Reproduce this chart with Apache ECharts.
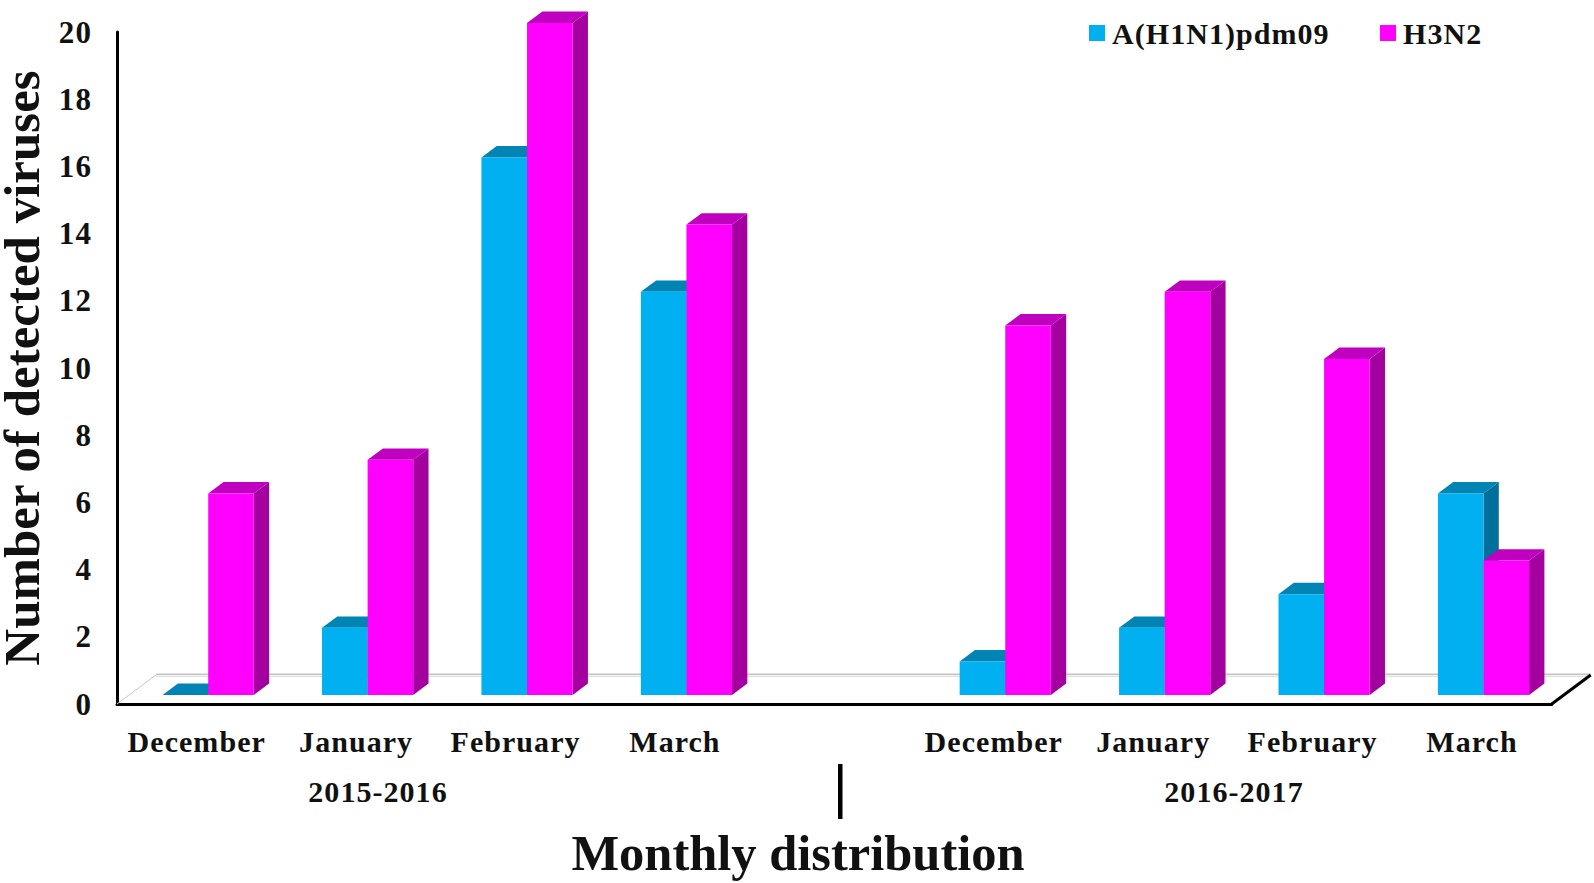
<!DOCTYPE html>
<html><head><meta charset="utf-8">
<style>html,body{margin:0;background:#fff}#c{width:1594px;height:883px}svg text{letter-spacing:.035em}svg text[style*="50.5px"],svg text[style*="51px"]{letter-spacing:0}</style>
<script src="https://cdn.jsdelivr.net/npm/echarts@6/dist/echarts.min.js"></script>
</head><body><div id="c"></div>
<script>
const categories=['December','January','February','March','','December','January','February','March'];
const h1n1=[0,2,16,12,null,1,2,3,6];
const h3n2=[6,7,20,14,null,11,12,10,4];
const yTicks=[0,2,4,6,8,10,12,14,16,18,20];
const FONT='"Liberation Serif","Times New Roman",serif';
const chart=echarts.init(document.getElementById('c'),null,{renderer:'svg'});
const BAR=45.6,DX=15.3,DY=11.4,OX=11.5,OY=-9;
function bar3d(side,colors){
  return function(params,api){
    const v=api.value(1);
    if(v===null||v===undefined||isNaN(v))return;
    const p=api.coord([api.value(0),v]),b=api.coord([api.value(0),0]);
    const x0=p[0]+OX+(side<0?-BAR:0),x1=x0+BAR,yt=p[1]+OY,yb=b[1]+OY;
    const poly=(pts,fill)=>({type:'polygon',shape:{points:pts},style:{fill:fill}});
    const kids=[
      poly([[x1,yt],[x1+DX,yt-DY],[x1+DX,yb-DY],[x1,yb]],colors[2]),
      poly([[x0,yt],[x0+DX,yt-DY],[x1+DX,yt-DY],[x1,yt]],colors[1])
    ];
    if(yb-yt>0)kids.push({type:'rect',shape:{x:x0,y:yt,width:BAR,height:yb-yt},style:{fill:colors[0]}});
    return {type:'group',children:kids};
  };
}
function floor(params,api){
  const c=params.coordSys,xl=c.x,xr=c.x+c.width,yb=c.y+c.height,dx=39,dy=29;
  return {type:'group',silent:true,children:[
    {type:'line',shape:{x1:xl+dx,y1:yb-dy,x2:xr+dx,y2:yb-dy},style:{stroke:'#c4c4c4',lineWidth:3}},
    {type:'line',shape:{x1:xl+dx,y1:yb-dy+.5,x2:xr+dx,y2:yb-dy+.5},style:{stroke:'#f2f2f2',lineWidth:1}},
    {type:'line',shape:{x1:xl,y1:yb,x2:xl+dx,y2:yb-dy},style:{stroke:'#c8c8c8',lineWidth:1}},
    {type:'line',shape:{x1:xr,y1:yb,x2:xr+dx,y2:yb-dy},style:{stroke:'#000',lineWidth:3}}
  ]};
}
const seriesCommon={type:'custom',encode:{x:0,y:1},silent:true,animation:false,clip:false};
chart.setOption({
  animation:false,
  backgroundColor:'#fff',
  grid:{left:117,top:32,width:1434.7,height:672,containLabel:false,outerBoundsMode:'none'},
  legend:{left:1084,top:13,icon:'rect',itemWidth:16,itemHeight:16,itemGap:63,
    textStyle:{fontFamily:FONT,fontWeight:'bold',fontSize:30,color:'#111',padding:[0,0,0,2]},
    data:['A(H1N1)pdm09','H3N2']},
  xAxis:{type:'category',data:categories,
    axisLine:{show:true,lineStyle:{color:'#000',width:3}},
    axisTick:{show:false},
    axisLabel:{interval:0,fontFamily:FONT,fontWeight:'bold',fontSize:30,color:'#111',margin:22}},
  yAxis:{type:'value',min:0,max:20,interval:2,
    name:'Number of detected viruses',nameLocation:'middle',nameGap:75,nameRotate:90,
    nameTextStyle:{fontFamily:FONT,fontWeight:'bold',fontSize:51,lineHeight:40,color:'#111'},
    axisLine:{show:true,lineStyle:{color:'#000',width:3}},
    axisTick:{show:false},splitLine:{show:false},
    axisLabel:{fontFamily:FONT,fontWeight:'bold',fontSize:31,color:'#111',margin:25,
      formatter:v=>yTicks.includes(v)?String(v):''}},
  graphic:[
    {type:'text',x:378,y:791,style:{text:'2015-2016',fontFamily:FONT,fontWeight:'bold',fontSize:30,fill:'#111',align:'center',verticalAlign:'middle'}},
    {type:'text',x:1234,y:791,style:{text:'2016-2017',fontFamily:FONT,fontWeight:'bold',fontSize:30,fill:'#111',align:'center',verticalAlign:'middle'}},
    {type:'text',x:798,y:853,style:{text:'Monthly distribution',fontFamily:FONT,fontWeight:'bold',fontSize:50.5,fill:'#111',align:'center',verticalAlign:'middle'}},
    {type:'rect',shape:{x:838,y:764,width:4.5,height:55},style:{fill:'#000'}}
  ],
  series:[
    {...seriesCommon,name:'floor',z:1,data:[[0,0]],renderItem:floor},
    {...seriesCommon,name:'A(H1N1)pdm09',z:2,itemStyle:{color:'#00b0f0'},
     data:h1n1.map((v,i)=>[i,v]),renderItem:bar3d(-1,['#00b0f0','#0084b4','#006f9c'])},
    {...seriesCommon,name:'H3N2',z:3,itemStyle:{color:'#ff00ff'},
     data:h3n2.map((v,i)=>[i,v]),renderItem:bar3d(1,['#ff00ff','#bf00bf','#a3009f'])}
  ]
});
</script></body></html>
